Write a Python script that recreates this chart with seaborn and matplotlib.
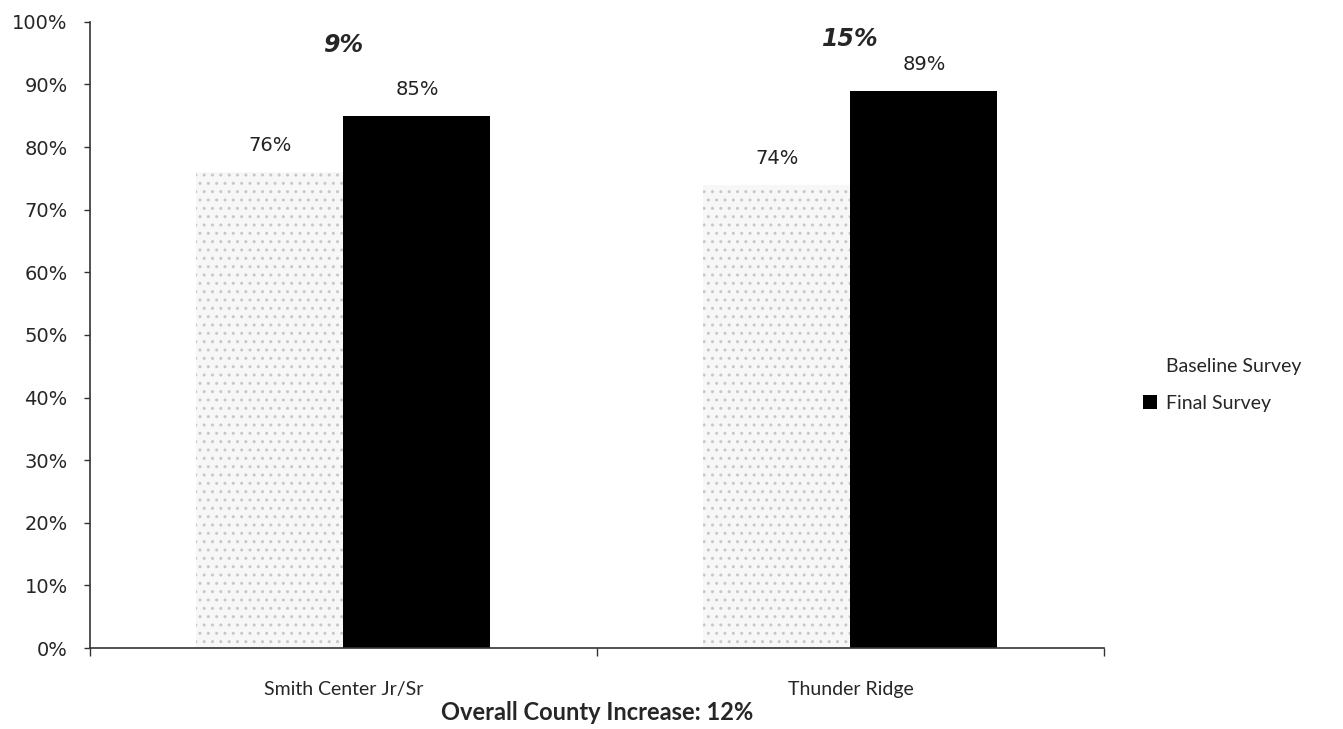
import matplotlib
matplotlib.use("Agg")
import matplotlib.pyplot as plt
import seaborn as sns
import pandas as pd
from matplotlib.patches import Patch

schools = ["Smith Center Jr/Sr", "Thunder Ridge"]
surveys = ["Baseline Survey", "Final Survey"]
baseline = [76, 74]
final = [85, 89]
increase = ["9%", "15%"]
overall = "Overall County Increase: 12%"

df = pd.DataFrame({
    "School": schools * 2,
    "Survey": [surveys[0]] * 2 + [surveys[1]] * 2,
    "Value": baseline + final,
})

sns.set_style("white")
plt.rcParams['font.family'] = ['Lato', 'DejaVu Sans']
plt.rcParams['hatch.linewidth'] = 1.0

fig = plt.figure(figsize=(13.43, 7.29), dpi=100)
ax = fig.add_axes([0.067, 0.111, 0.755, 0.859])

sns.barplot(data=df, x="School", y="Value", hue="Survey", hue_order=surveys,
            order=schools, palette=["#f7f7f7", "#000000"], width=0.58,
            saturation=1, ax=ax, legend=False, linewidth=0)

base_cont, final_cont = ax.containers[0], ax.containers[1]
for p in base_cont:
    p.set_hatch("..")
    p.set_edgecolor("#c8c8c8")
    p.set_linewidth(0)

ax.bar_label(base_cont, labels=[f"{v}%" for v in baseline], padding=12,
             fontsize=14, family="DejaVu Sans", color="#222222")
ax.bar_label(final_cont, labels=[f"{v}%" for v in final], padding=12,
             fontsize=14, family="DejaVu Sans", color="#222222")

for i, t in enumerate(increase):
    ax.text(i, 96.3 if i == 0 else 97.2, t, ha="center", va="center", fontsize=17,
            fontweight="bold", fontstyle="italic", family="DejaVu Sans")

ax.set_ylim(0, 100)
ax.set_xlim(-0.5, 1.5)
ax.set_yticks(range(0, 101, 10))
ax.set_yticklabels([f"{v}%" for v in range(0, 101, 10)], family="DejaVu Sans",
                   fontsize=14)
ax.set_xticks([0, 1])
ax.set_xticklabels(schools, fontsize=14)
ax.set_xticks([-0.5, 0.5, 1.5], minor=True)
ax.tick_params(axis="x", which="major", length=0, pad=24, bottom=True)
ax.tick_params(axis="x", which="minor", length=6, direction="out", width=1,
               bottom=True, color="#333333")
ax.tick_params(axis="y", length=4, direction="out", width=1, left=True, pad=12,
               color="#333333")
ax.set_ylabel("")
ax.set_xlabel(overall, fontsize=17, fontweight="bold", labelpad=2)

for s in ["top", "right"]:
    ax.spines[s].set_visible(False)
for s in ["left", "bottom"]:
    ax.spines[s].set_color("#333333")
    ax.spines[s].set_linewidth(1.2)

handles = [Patch(facecolor="white", edgecolor="none"),
           Patch(facecolor="black", edgecolor="none")]
fig.legend(handles, surveys, loc="center left", bbox_to_anchor=(0.838, 0.472),
           frameon=False, fontsize=14, handlelength=0.7, handleheight=0.7,
           handletextpad=0.5, labelspacing=1.0)

fig.savefig("out.png", dpi=100)
